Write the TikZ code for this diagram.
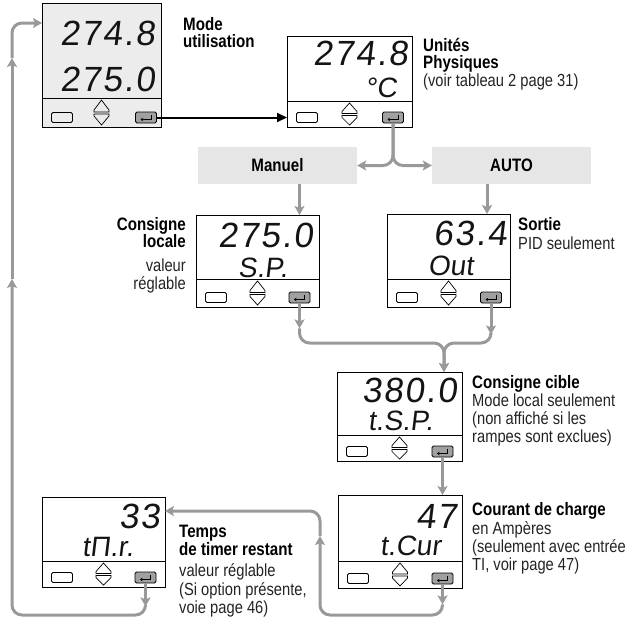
\documentclass[tikz,border=0pt]{standalone}
\usepackage{fontspec}
\setmainfont{Liberation Sans}
\newfontfamily\labfont[FakeStretch=0.84]{Liberation Sans}
\newfontfamily\lcdfont[FakeSlant=0.12,LetterSpace=5]{Liberation Sans}
\newfontfamily\lcdfontb[FakeSlant=0.12]{Liberation Sans}
\usetikzlibrary{arrows.meta}
\definecolor{lineg}{RGB}{153,153,153}
\definecolor{modegray}{RGB}{230,230,231}
\definecolor{dagray}{RGB}{236,236,236}
\definecolor{entgray}{RGB}{160,160,160}
\definecolor{lcdtext}{RGB}{20,20,20}
\definecolor{txtgray}{RGB}{35,35,35}
\newcommand{\devunit}[8]{%
  \pgfmathsetmacro{\dW}{#4-#2}%
  \pgfmathsetmacro{\dH}{#5-#3}%
  \pgfmathsetmacro{\dX}{(#2+#4)/2}%
  \pgfmathsetmacro{\dY}{(#3+#5)/2}%
  \pgfmathsetmacro{\bY}{#5-9.5}%
  \pgfmathsetmacro{\eX}{#4-#8}%
  \pgfmathsetmacro{\tA}{#6+2}%
  \pgfmathsetmacro{\tB}{(#6+#5)/2-0.5}%
  \pgfmathsetmacro{\tC}{(#6+#5)/2+1.5}%
  \pgfmathsetmacro{\tD}{#5-2}%
  \node[devbody, fill=#7, minimum width=\dW pt, minimum height=\dH pt] (#1) at (\dX,\dY) {};
  \draw[devsep] (#2,#6) -- (#4,#6);
  \node[btnbox] (#1l) at (#2+20,\bY) {};
  \draw[tri] (\dX-7.5,\tB) -- (\dX-7.5,\tB-2) -- (\dX,\tA) -- (\dX+7.5,\tB-2) -- (\dX+7.5,\tB) -- cycle;
  \draw[tri] (\dX-7.5,\tC) -- (\dX-7.5,\tC+2) -- (\dX,\tD) -- (\dX+7.5,\tC+2) -- (\dX+7.5,\tC) -- cycle;
  \node[entbox] (#1e) at (\eX,\bY) {};
  \draw[enticon] (\eX+5,\bY-3) -- (\eX+5,\bY+2) -- (\eX-5.5,\bY+2);
}
\begin{document}
\begin{tikzpicture}[x=1pt,y=-1pt,
  devbody/.style={draw=black, line width=1pt, inner sep=0, outer sep=0},
  devsep/.style={draw=black, line width=1pt},
  btnbox/.style={draw=black, line width=0.8pt, rounded corners=1.5pt, minimum width=21pt, minimum height=10pt, inner sep=0},
  entbox/.style={draw=black, line width=0.8pt, rounded corners=1.5pt, fill=entgray, minimum width=21pt, minimum height=11pt, inner sep=0},
  enticon/.style={draw=black, line width=0.8pt, -{Stealth[length=2.5pt,width=3.5pt]}},
  tri/.style={draw=black, line width=0.7pt, line join=miter},
  gline/.style={draw=lineg, line width=3pt},
  garrow/.style={gline, -{Stealth[length=9pt,width=10pt,inset=2pt]}},
  barrow/.style={draw=black, line width=2pt, -{Triangle[length=10pt,width=9pt]}},
  modebox/.style={fill=modegray, minimum width=159pt, minimum height=37pt, inner sep=0, font=\labfont\fontsize{18}{18}\selectfont\bfseries},
  lcdA/.style={font=\lcdfont\fontsize{35}{35}\selectfont, inner sep=0, text=lcdtext},
  lcdB/.style={font=\lcdfontb\fontsize{28}{28}\selectfont, inner sep=0, text=lcdtext},
  lb/.style={font=\labfont\fontsize{18}{18}\selectfont\bfseries, inner sep=0},
  lr/.style={font=\labfont\fontsize{17.5}{17.5}\selectfont, inner sep=0, text=txtgray},
]
\useasboundingbox (0,0) rectangle (631,619);

% devices
\devunit{d1}{42}{3}{161}{127}{98}{dagray}{15}
\devunit{d2}{287}{36}{412}{127}{101}{white}{19}
\devunit{d3}{196}{215}{319}{307}{279}{white}{19.5}
\devunit{d4}{387}{214}{510}{307}{279}{white}{19}
\devunit{d5}{337}{372}{462}{461}{435}{white}{19.5}
\devunit{d6}{338}{495}{462}{588}{561}{white}{19.5}
\devunit{d7}{42}{497}{165}{587}{561}{white}{19.5}

% LCD readouts
\node[lcdA, anchor=base east] (r1a) at (155,45) {274.8};
\node[lcdA, anchor=base east] (r1b) at (155,91) {275.0};
\node[lcdA, anchor=base east] (r2a) at (408,65) {274.8};
\node[lcdB, anchor=base east] (r2b) at (397,97) {°C};
\node[lcdA, anchor=base east] (r3a) at (313,247) {275.0};
\node[lcdB, anchor=base west] (r3b) at (238,277) {S.P.};
\node[lcdA, anchor=base east] (r4a) at (507,245) {63.4};
\node[lcdB, anchor=base west] (r4b) at (428,275) {Out};
\node[lcdA, anchor=base east] (r5a) at (457,402) {380.0};
\node[lcdB, anchor=base west] (r5b) at (368,430) {t.S.P.};
\node[lcdA, anchor=base east] (r6a) at (457,528) {47};
\node[lcdB, anchor=base west] (r6b) at (380,555) {t.Cur};
\node[lcdA, anchor=base east] (r7a) at (160,528) {33};
\node[lcdB, anchor=base west] (r7b) at (82,556) {tΠ.r.};

% mode boxes
\node[modebox] (manuel) at (277.5,165.5) {Manuel};
\node[modebox] (auto) at (511.5,165.5) {AUTO};

% labels
\node[lb, anchor=base west] (tmode1) at (183,30) {Mode};
\node[lb, anchor=base west] (tmode2) at (183,47.5) {utilisation};
\node[lb, anchor=base west] (tu1) at (423,51) {Unités};
\node[lb, anchor=base west] (tu2) at (423,68.5) {Physiques};
\node[lr, anchor=base west] (tu3) at (423,86.5) {(voir tableau 2 page 31)};
\node[lb, anchor=base east] (tc1) at (186,230) {Consigne};
\node[lb, anchor=base east] (tc2) at (186,247.5) {locale};
\node[lr, anchor=base east] (tc3) at (186,271) {valeur};
\node[lr, anchor=base east] (tc4) at (186,289) {réglable};
\node[lb, anchor=base west] (ts1) at (518,230) {Sortie};
\node[lr, anchor=base west] (ts2) at (518,249) {PID seulement};
\node[lb, anchor=base west] (tt1) at (472,388) {Consigne cible};
\node[lr, anchor=base west] (tt2) at (472,406) {Mode local seulement};
\node[lr, anchor=base west] (tt3) at (472,424) {(non affiché si les};
\node[lr, anchor=base west] (tt4) at (472,442) {rampes sont exclues)};
\node[lb, anchor=base west] (tk1) at (472,515) {Courant de charge};
\node[lr, anchor=base west] (tk2) at (472,534) {en Ampères};
\node[lr, anchor=base west] (tk3) at (472,552) {(seulement avec entrée};
\node[lr, anchor=base west] (tk4) at (472,570) {TI, voir page 47)};
\node[lb, anchor=base west] (tm1) at (179,537) {Temps};
\node[lb, anchor=base west] (tm2) at (179,555) {de timer restant};
\node[lr, anchor=base west] (tm3) at (179,576) {valeur réglable};
\node[lr, anchor=base west] (tm4) at (179,595) {(Si option présente,};
\node[lr, anchor=base west] (tm5) at (179,613) {voie page 46)};

% helper coordinates
\coordinate (c4) at (487,200);
\coordinate (j) at (444,343);
\coordinate (b6) at (320,615);
\coordinate (u6) at (320,536);
\coordinate (k6) at (320,511);
\coordinate (b7) at (12,615);
\coordinate (u7a) at (12,279);
\coordinate (u7b) at (12,58);
\coordinate (k7) at (12,23);
\path (d3e.south) ++(0,25) coordinate (t3);
\path (d4e.south) ++(0,31) coordinate (t4);
\path (d6e.south) ++(0,20) coordinate (t6);
\path (d7e.south) ++(0,23) coordinate (t7);

% connectors
\draw[barrow] (d1e.east) -- (d2.west |- d1e.east);
\draw[garrow, rounded corners=10pt] (d2e.south) -- (d2e.south |- manuel.east) -- (manuel.east);
\draw[garrow, rounded corners=10pt] (d2e.south) -- (d2e.south |- auto.west) -- (auto.west);
\draw[garrow] (manuel.south -| d3e) -- (d3.north -| d3e);
\draw[garrow] (auto.south -| c4) -- (d4.north -| c4);
\draw[garrow] (d3e.south) -- (t3);
\draw[garrow, rounded corners=10pt] (t3) -- (t3 |- j) -- (j) -- (d5.north -| j);
\draw[garrow] (d4e.south) -- (t4);
\draw[garrow, rounded corners=10pt] (t4) -- (t4 |- j) -- (j) -- (d5.north -| j);
\draw[garrow] (d5e.south) -- (d6.north -| d5e.south);
\draw[garrow] (d6e.south) -- (t6);
\draw[garrow, rounded corners=10pt] (t6) -- (t6 |- b6) -- (b6) -- (u6);
\draw[garrow, rounded corners=10pt] (u6) -- (k6) -- (d7.east |- k6);
\draw[garrow] (d7e.south) -- (t7);
\draw[garrow, rounded corners=10pt] (t7) -- (t7 |- b7) -- (b7) -- (u7a);
\draw[garrow] (u7a) -- (u7b);
\draw[garrow, rounded corners=10pt] (u7b) -- (k7) -- (d1.west |- k7);
\end{tikzpicture}
\end{document}
